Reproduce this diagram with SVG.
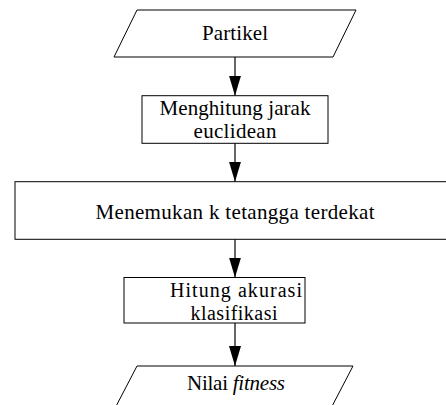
<svg xmlns="http://www.w3.org/2000/svg" width="446" height="405" viewBox="0 0 446 405">
<style>
.shape{fill:#fff;stroke:#000;stroke-width:1}
.lbl{font-family:"Liberation Serif","Times New Roman",serif;font-size:21px;fill:#000;text-anchor:middle}
.sm{font-size:20px}
.conn{stroke:#000;stroke-width:1.2;fill:none;marker-end:url(#arr)}
</style>
<defs>
<marker id="arr" markerUnits="userSpaceOnUse" markerWidth="20" markerHeight="12" viewBox="0 0 20 12" refX="20" refY="6" orient="auto">
<path d="M0,0 L20,6 L0,12 z" fill="#000"/>
</marker>
</defs>
<rect width="446" height="405" fill="#fff"/>
<g id="connectors">
<line class="conn" x1="235" y1="57" x2="235" y2="95.7"/>
<line class="conn" x1="235" y1="143.3" x2="235" y2="181.7"/>
<line class="conn" x1="235" y1="239.3" x2="235" y2="277.5"/>
<line class="conn" x1="235" y1="323" x2="235" y2="366"/>
</g>
<g id="n1">
<polygon class="shape" points="137,10 356,10 333,57 114,57"/>
<text class="lbl" x="235" y="40" textLength="66">Partikel</text>
</g>
<g id="n2">
<rect class="shape" x="142" y="95.7" width="186" height="47.6"/>
<text class="lbl" x="235" y="114.5" textLength="151">Menghitung jarak</text>
<text class="lbl" x="235" y="138" textLength="83">euclidean</text>
</g>
<g id="n3">
<rect class="shape" x="15" y="181.7" width="440" height="57.6"/>
<text class="lbl" x="235" y="219" textLength="279">Menemukan k tetangga terdekat</text>
</g>
<g id="n4">
<rect class="shape" x="124" y="277.5" width="181" height="45.5"/>
<text class="lbl sm" x="236" y="296.5" textLength="132">Hitung akurasi</text>
<text class="lbl sm" x="234" y="319.5" textLength="87">klasifikasi</text>
</g>
<g id="n5">
<polygon class="shape" points="137,366 353,366 327.5,415 111.5,415"/>
<text class="lbl" x="236" y="390" textLength="98">Nilai <tspan font-style="italic">fitness</tspan></text>
</g>
</svg>
